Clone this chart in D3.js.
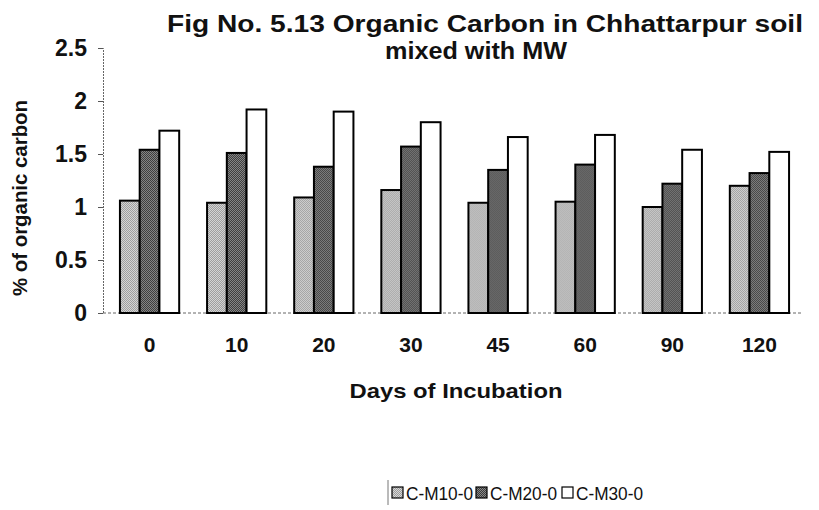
<!DOCTYPE html>
<html>
<head>
<meta charset="utf-8">
<title>Organic Carbon</title>
<script src="https://cdn.jsdelivr.net/npm/d3@7"></script>
<style>
  body { margin: 0; background: #fff; }
  svg text { font-family: "Liberation Sans", Arial, sans-serif; fill: #111; }
</style>
</head>
<body>
<div id="chart"></div>
<script>
// data
const days = ["0", "10", "20", "30", "45", "60", "90", "120"];
const seriesNames = ["C-M10-0", "C-M20-0", "C-M30-0"];
const cm10 = [1.06, 1.04, 1.09, 1.16, 1.04, 1.05, 1.00, 1.20];
const cm20 = [1.54, 1.51, 1.38, 1.57, 1.35, 1.40, 1.22, 1.32];
const cm30 = [1.72, 1.92, 1.90, 1.80, 1.66, 1.68, 1.54, 1.52];
const yTicks = [0, 0.5, 1, 1.5, 2, 2.5];

const width = 819, height = 510;
const margin = {top: 48, right: 16, bottom: 197, left: 103};

const svg = d3.select("#chart").append("svg")
  .attr("width", width).attr("height", height);

// halftone-ish fills
const defs = svg.append("defs");
function checker(id, a, b) {
  const p = defs.append("pattern").attr("id", id)
    .attr("width", 2).attr("height", 2).attr("patternUnits", "userSpaceOnUse");
  p.append("rect").attr("width", 2).attr("height", 2).attr("fill", a);
  p.append("rect").attr("width", 1).attr("height", 1).attr("fill", b);
  p.append("rect").attr("x", 1).attr("y", 1).attr("width", 1).attr("height", 1).attr("fill", b);
}
checker("light", "#d8d8d8", "#9a9a9a");
checker("dark", "#8a8a8a", "#3a3a3a");
const fills = ["url(#light)", "url(#dark)", "#ffffff"];

const table = days.map((d, i) => ({day: d, vals: [cm10[i], cm20[i], cm30[i]]}));

const x = d3.scaleBand().domain(days)
  .range([margin.left + 3, width - margin.right])
  .paddingInner(0.32).paddingOuter(0.16);
const xs = d3.scaleBand().domain(d3.range(3)).range([0, x.bandwidth()]);
const y = d3.scaleLinear().domain([0, 2.5]).range([height - margin.bottom, margin.top]);

// axes
const yAxis = svg.append("g")
  .attr("transform", `translate(${margin.left},0)`)
  .call(d3.axisLeft(y).tickValues(yTicks).tickFormat(d => d).tickSize(5).tickPadding(11));
yAxis.select(".domain").attr("stroke", "#666").attr("stroke-dasharray", "2,1");
yAxis.selectAll(".tick line").attr("stroke", "#555");
yAxis.selectAll("text").style("font-size", "23px").style("font-weight", "bold");

svg.append("line")
  .attr("x1", margin.left).attr("x2", width - margin.right)
  .attr("y1", y(0)).attr("y2", y(0))
  .attr("stroke", "#666").attr("stroke-dasharray", "3,2");

const xAxis = svg.append("g")
  .attr("transform", `translate(0,${y(0)})`)
  .call(d3.axisBottom(x).tickSize(0));
xAxis.select(".domain").remove();
xAxis.selectAll("text").attr("y", 39).attr("dy", 0)
  .style("font-size", "21px").style("font-weight", "bold");

// bars
const grp = svg.append("g").selectAll("g").data(table).join("g")
  .attr("transform", d => `translate(${x(d.day)},0)`);
grp.selectAll("rect").data(d => d.vals).join("rect")
  .attr("x", (v, i) => xs(i))
  .attr("y", v => y(v))
  .attr("width", xs.bandwidth())
  .attr("height", v => y(0) - y(v))
  .attr("fill", (v, i) => fills[i])
  .attr("stroke", "#000").attr("stroke-width", 2);

// titles
svg.append("text").attr("x", 485).attr("y", 32).attr("text-anchor", "middle")
  .attr("textLength", 636).attr("lengthAdjust", "spacingAndGlyphs")
  .style("font-size", "23px").style("font-weight", "bold")
  .text("Fig No. 5.13 Organic Carbon in Chhattarpur soil");
svg.append("text").attr("x", 476).attr("y", 59).attr("text-anchor", "middle")
  .attr("textLength", 182).attr("lengthAdjust", "spacingAndGlyphs")
  .style("font-size", "23px").style("font-weight", "bold")
  .text("mixed with MW");
svg.append("text").attr("x", 456).attr("y", 398).attr("text-anchor", "middle")
  .attr("textLength", 213).attr("lengthAdjust", "spacingAndGlyphs")
  .style("font-size", "21px").style("font-weight", "bold")
  .text("Days of Incubation");
svg.append("text").attr("transform", "translate(27,198) rotate(-90)")
  .attr("text-anchor", "middle")
  .attr("textLength", 196).attr("lengthAdjust", "spacingAndGlyphs")
  .style("font-size", "21px").style("font-weight", "bold")
  .text("% of organic carbon");

// legend
const legend = svg.append("g").attr("transform", "translate(388,493)");
legend.append("line").attr("x1", 0).attr("x2", 0).attr("y1", -13).attr("y2", 12)
  .attr("stroke", "#777");
const lx = [4, 88, 174];
const li = legend.selectAll("g").data(seriesNames).join("g")
  .attr("transform", (d, i) => `translate(${lx[i]},0)`);
li.append("rect").attr("x", 0).attr("y", -6).attr("width", 11).attr("height", 11)
  .attr("fill", (d, i) => fills[i]).attr("stroke", "#000").attr("stroke-width", 1.2);
li.append("text").attr("x", 14).attr("y", 7)
  .attr("textLength", 67).attr("lengthAdjust", "spacingAndGlyphs")
  .style("font-size", "18px").text(d => d);
</script>
</body>
</html>
